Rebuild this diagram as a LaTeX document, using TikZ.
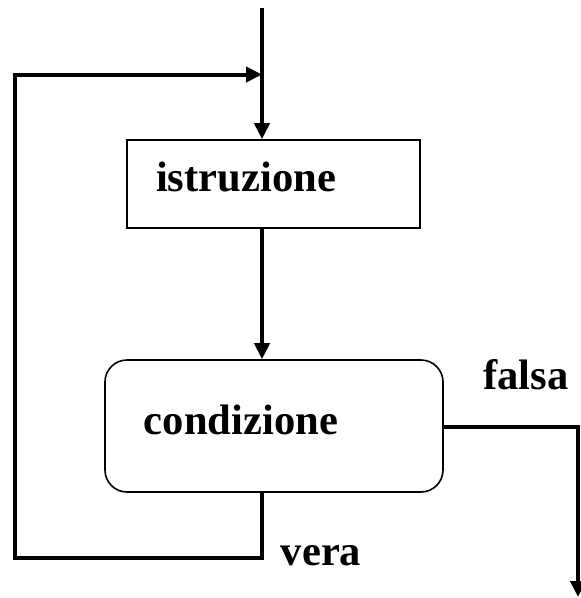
\documentclass[tikz,border=0pt]{standalone}
\usepackage{fontspec}
\setmainfont{Liberation Serif}
\usetikzlibrary{arrows.meta}
\begin{document}
\begin{tikzpicture}[x=1pt,y=-1pt,
  conn/.style={line width=4pt,-{Triangle[length=16pt,width=15pt]}},
  line/.style={line width=4pt},
  boxstyle/.style={draw,line width=1.6pt,inner sep=0pt},
  lbl/.style={font=\fontsize{42.6}{48}\bfseries\selectfont,inner sep=0pt}]
\useasboundingbox (0,0) rectangle (581,598);
\node[boxstyle,minimum width=293pt,minimum height=88pt] (istr) at (273.5,184) {};
\node[lbl] (istrtext) at (246,177) {istruzione};
\node[boxstyle,rounded corners=22pt,minimum width=338pt,minimum height=132pt] (cond) at (274,426) {};
\node[lbl] (condtext) at (241,420) {condizione};
\node[lbl] (falsa) at (526,375) {falsa};
\node[lbl] (vera) at (321,556) {vera};
\coordinate (top) at (262,8);
\coordinate (join) at (262,74.5);
\coordinate (ul) at (15,74.5);
\coordinate (ll) at (15,558);
\coordinate (vb) at (262,558);
\coordinate (fr) at (578,426.5);
\coordinate (fend) at (578,597);
\draw[line] (top) -- (join);
\draw[conn] (join) -- (top |- istr.north);
\draw[conn] (top |- istr.south) -- (top |- cond.north);
\draw[conn,line join=miter] (top |- cond.south) -- (vb) -- (ll) -- (ul) -- (join);
\draw[conn,line join=miter] (cond.east |- fr) -- (fr) -- (fend);
\end{tikzpicture}
\end{document}
